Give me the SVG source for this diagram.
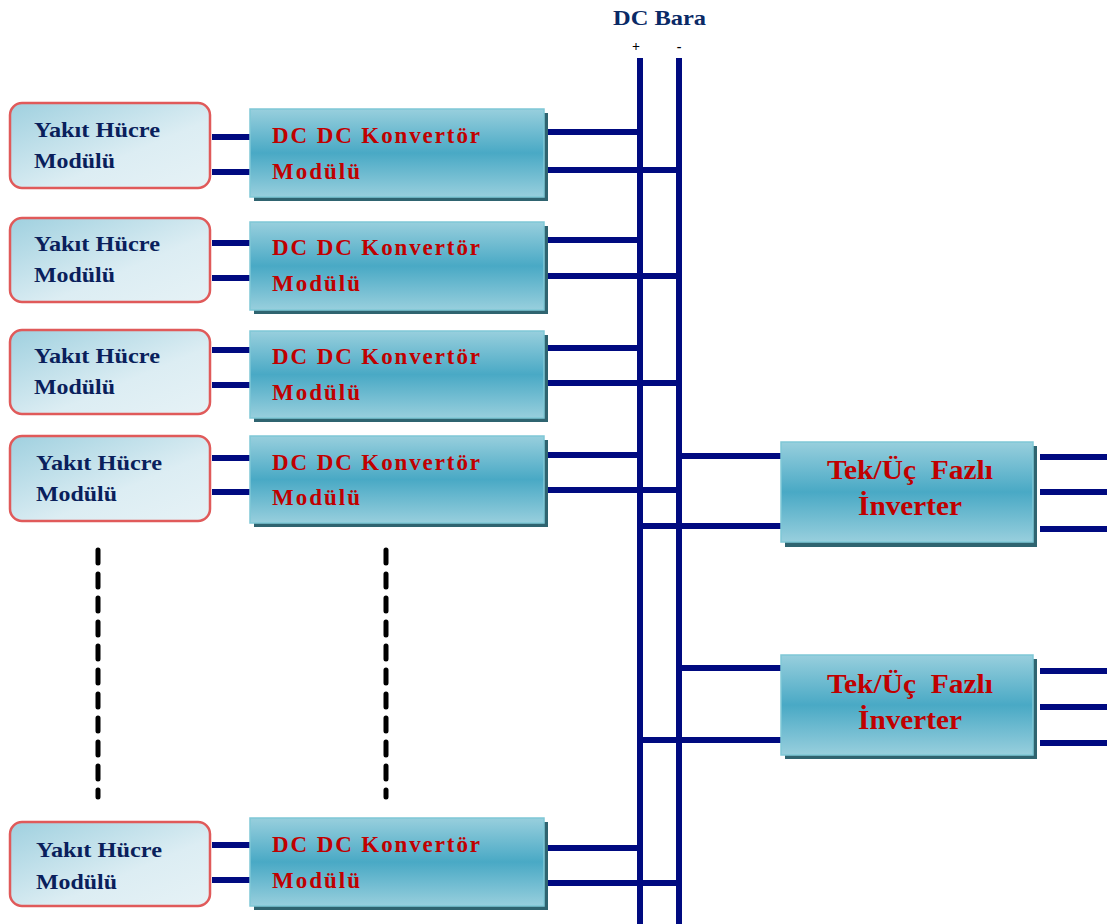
<svg xmlns="http://www.w3.org/2000/svg" width="1113" height="924" viewBox="0 0 1113 924">
<defs>
<linearGradient id="gConv" x1="0" y1="0" x2="0" y2="1">
<stop offset="0" stop-color="#98cfdd"/>
<stop offset="0.5" stop-color="#49a9c5"/>
<stop offset="1" stop-color="#98cfdd"/>
</linearGradient>
<linearGradient id="gFc" x1="0" y1="0" x2="1" y2="1">
<stop offset="0" stop-color="#9fd0df"/>
<stop offset="0.6" stop-color="#dcedf3"/>
<stop offset="1" stop-color="#e6f2f6"/>
</linearGradient>
</defs>
<style>
.fc rect.b{fill:url(#gFc);stroke:#e05a5a;stroke-width:2.5}
.sh{fill:#2f6470}
.cv{fill:url(#gConv);stroke:#7fc8d6;stroke-width:1.5}
.t1{font-family:"Liberation Serif",serif;font-weight:bold;font-size:21px;fill:#0a1f5c}
.t2{font-family:"Liberation Serif",serif;font-weight:bold;font-size:23px;fill:#c00000}
.t3{font-family:"Liberation Serif",serif;font-weight:bold;font-size:27px;fill:#c00000;white-space:pre}
.w{stroke:#000a80;stroke-width:6;fill:none}
.bus{stroke:#000a80;stroke-width:6;fill:none}
.dash{stroke:#000;stroke-width:5;stroke-dasharray:13,11;stroke-linecap:round;fill:none}
</style>
<rect width="1113" height="924" fill="#fff"/>
<g id="title">
<text x="613" y="25" textLength="93" lengthAdjust="spacingAndGlyphs" font-family="Liberation Serif, serif" font-weight="bold" font-size="21" fill="#0a2a66">DC Bara</text>
<text x="636" y="51" text-anchor="middle" font-family="Liberation Serif, serif" font-weight="bold" font-size="14" fill="#000">+</text>
<text x="679" y="51" text-anchor="middle" font-family="Liberation Serif, serif" font-weight="bold" font-size="14" fill="#000">-</text>
</g>
<g id="connectors">
<line class="bus" x1="640" y1="58" x2="640" y2="924"/>
<line class="bus" x1="679" y1="58" x2="679" y2="924"/>
<line class="w" x1="212" y1="137" x2="250" y2="137"/>
<line class="w" x1="212" y1="172" x2="250" y2="172"/>
<line class="w" x1="548" y1="132" x2="643" y2="132"/>
<line class="w" x1="548" y1="170" x2="682" y2="170"/>
<line class="w" x1="212" y1="243" x2="250" y2="243"/>
<line class="w" x1="212" y1="278" x2="250" y2="278"/>
<line class="w" x1="548" y1="240" x2="643" y2="240"/>
<line class="w" x1="548" y1="276" x2="682" y2="276"/>
<line class="w" x1="212" y1="350" x2="250" y2="350"/>
<line class="w" x1="212" y1="385" x2="250" y2="385"/>
<line class="w" x1="548" y1="348" x2="643" y2="348"/>
<line class="w" x1="548" y1="383" x2="682" y2="383"/>
<line class="w" x1="212" y1="458" x2="250" y2="458"/>
<line class="w" x1="212" y1="492" x2="250" y2="492"/>
<line class="w" x1="548" y1="455" x2="643" y2="455"/>
<line class="w" x1="548" y1="490" x2="682" y2="490"/>
<line class="w" x1="212" y1="845" x2="250" y2="845"/>
<line class="w" x1="212" y1="880" x2="250" y2="880"/>
<line class="w" x1="548" y1="848" x2="643" y2="848"/>
<line class="w" x1="548" y1="883" x2="682" y2="883"/>
<line class="w" x1="676" y1="456" x2="781" y2="456"/>
<line class="w" x1="637" y1="526" x2="781" y2="526"/>
<line class="w" x1="1040" y1="457" x2="1107" y2="457"/>
<line class="w" x1="1040" y1="492" x2="1107" y2="492"/>
<line class="w" x1="1040" y1="529" x2="1107" y2="529"/>
<line class="w" x1="676" y1="668" x2="781" y2="668"/>
<line class="w" x1="637" y1="740" x2="781" y2="740"/>
<line class="w" x1="1040" y1="671" x2="1107" y2="671"/>
<line class="w" x1="1040" y1="707" x2="1107" y2="707"/>
<line class="w" x1="1040" y1="743" x2="1107" y2="743"/>
<line class="dash" x1="98" y1="550" x2="98" y2="797"/>
<line class="dash" x1="386" y1="550" x2="386" y2="797"/>
</g>
<g id="fc1" class="fc"><rect class="b" x="10" y="103" width="200" height="85" rx="12"/><text class="t1" x="34" y="137" textLength="126" lengthAdjust="spacingAndGlyphs">Yakıt Hücre</text><text class="t1" x="34" y="168" textLength="81" lengthAdjust="spacingAndGlyphs">Modülü</text></g>
<g id="fc2" class="fc"><rect class="b" x="10" y="218" width="200" height="84" rx="12"/><text class="t1" x="34" y="251" textLength="126" lengthAdjust="spacingAndGlyphs">Yakıt Hücre</text><text class="t1" x="34" y="282" textLength="81" lengthAdjust="spacingAndGlyphs">Modülü</text></g>
<g id="fc3" class="fc"><rect class="b" x="10" y="330" width="200" height="84" rx="12"/><text class="t1" x="34" y="363" textLength="126" lengthAdjust="spacingAndGlyphs">Yakıt Hücre</text><text class="t1" x="34" y="394" textLength="81" lengthAdjust="spacingAndGlyphs">Modülü</text></g>
<g id="fc4" class="fc"><rect class="b" x="10" y="436" width="200" height="85" rx="12"/><text class="t1" x="36" y="470" textLength="126" lengthAdjust="spacingAndGlyphs">Yakıt Hücre</text><text class="t1" x="36" y="501" textLength="81" lengthAdjust="spacingAndGlyphs">Modülü</text></g>
<g id="fc5" class="fc"><rect class="b" x="10" y="822" width="200" height="84" rx="12"/><text class="t1" x="36" y="857" textLength="126" lengthAdjust="spacingAndGlyphs">Yakıt Hücre</text><text class="t1" x="36" y="889" textLength="81" lengthAdjust="spacingAndGlyphs">Modülü</text></g>
<g id="cv1"><rect class="sh" x="254" y="113" width="294" height="88"/><rect class="cv" x="250" y="109" width="294" height="88"/><text class="t2" x="272" y="143" textLength="208">DC DC Konvertör</text><text class="t2" x="272" y="179" textLength="88">Modülü</text></g>
<g id="cv2"><rect class="sh" x="254" y="226" width="294" height="88"/><rect class="cv" x="250" y="222" width="294" height="88"/><text class="t2" x="272" y="255" textLength="208">DC DC Konvertör</text><text class="t2" x="272" y="291" textLength="88">Modülü</text></g>
<g id="cv3"><rect class="sh" x="254" y="335" width="294" height="87"/><rect class="cv" x="250" y="331" width="294" height="87"/><text class="t2" x="272" y="364" textLength="208">DC DC Konvertör</text><text class="t2" x="272" y="400" textLength="88">Modülü</text></g>
<g id="cv4"><rect class="sh" x="254" y="440" width="294" height="87"/><rect class="cv" x="250" y="436" width="294" height="87"/><text class="t2" x="272" y="470" textLength="208">DC DC Konvertör</text><text class="t2" x="272" y="505" textLength="88">Modülü</text></g>
<g id="cv5"><rect class="sh" x="254" y="822" width="294" height="88"/><rect class="cv" x="250" y="818" width="294" height="88"/><text class="t2" x="272" y="852" textLength="208">DC DC Konvertör</text><text class="t2" x="272" y="888" textLength="88">Modülü</text></g>
<g id="inv1"><rect class="sh" x="785" y="446" width="252" height="101"/><rect class="cv" x="781" y="442" width="252" height="100"/><text class="t3" x="827" y="479" textLength="166" lengthAdjust="spacingAndGlyphs">Tek/Üç  Fazlı</text><text class="t3" x="858" y="515" textLength="104" lengthAdjust="spacingAndGlyphs">İnverter</text></g>
<g id="inv2"><rect class="sh" x="785" y="659" width="252" height="100"/><rect class="cv" x="781" y="655" width="252" height="100"/><text class="t3" x="827" y="693" textLength="166" lengthAdjust="spacingAndGlyphs">Tek/Üç  Fazlı</text><text class="t3" x="858" y="729" textLength="104" lengthAdjust="spacingAndGlyphs">İnverter</text></g>
</svg>
